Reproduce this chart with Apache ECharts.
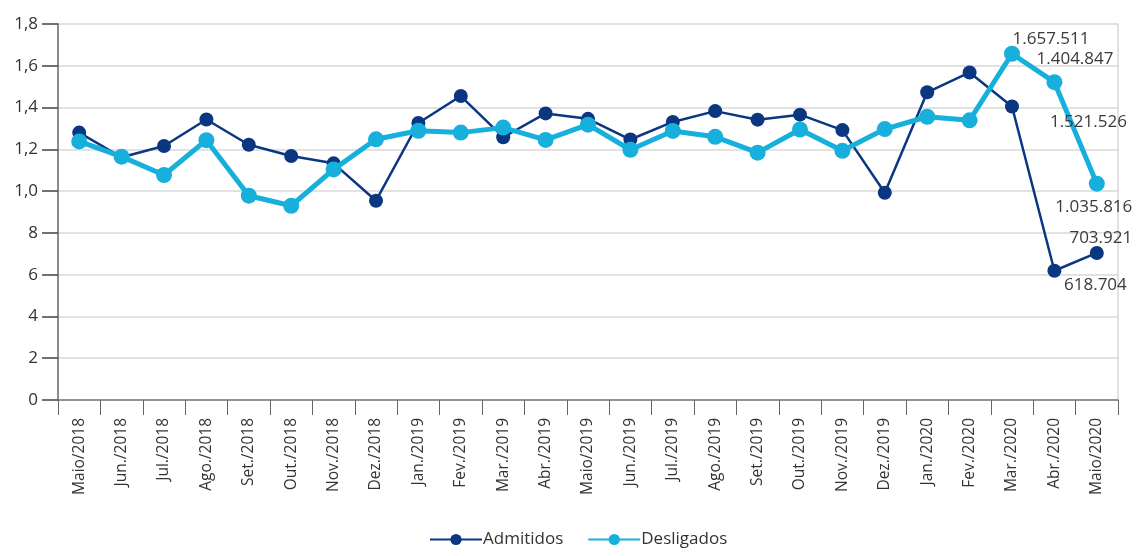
<!DOCTYPE html>
<html>
<head>
<meta charset="utf-8">
<script src="https://cdn.jsdelivr.net/npm/echarts@6/dist/echarts.min.js"></script>
<style>html,body{margin:0;padding:0;background:#fff}#c{width:1136px;height:556px}</style>
</head>
<body>
<div id="c"></div>
<script>
const categories = ['Maio/2018','Jun./2018','Jul./2018','Ago./2018','Set./2018','Out./2018','Nov./2018','Dez./2018','Jan./2019','Fev./2019','Mar./2019','Abr./2019','Maio/2019','Jun./2019','Jul./2019','Ago./2019','Set./2019','Out./2019','Nov./2019','Dez./2019','Jan./2020','Fev./2020','Mar./2020','Abr./2020','Maio/2020'];
const admitidos = [1.280,1.162,1.216,1.343,1.222,1.168,1.133,0.954,1.326,1.455,1.258,1.372,1.346,1.247,1.331,1.383,1.342,1.366,1.292,0.992,1.473,1.568,1.404847,0.618704,0.703921];
const desligados = [1.238,1.165,1.077,1.244,0.978,0.930,1.104,1.248,1.289,1.280,1.304,1.245,1.318,1.198,1.288,1.260,1.184,1.295,1.193,1.297,1.356,1.339,1.657511,1.521526,1.035816];
const yTickLabels = ['0','2','4','6','8','1,0','1,2','1,4','1,6','1,8'];
const admitidosLabels = {22:'1.404.847', 23:'618.704', 24:'703.921'};
const desligadosLabels = {22:'1.657.511', 23:'1.521.526', 24:'1.035.816'};

const labelOffsets = {
  adm: {22:[63,-47], 23:[41,14], 24:[4,-15]},
  des: {22:[39,-15], 23:[34,40], 24:[-3,24]}
};
const FONT = '"Open Sans", "Noto Sans", sans-serif';
const DARK = '#0b3682', LIGHT = '#17b0dc';

function buildData(vals, labels, offs) {
  return vals.map((v, i) => {
    if (labels[i] === undefined) return v;
    return {value: v, label: {show: true, position: 'inside', offset: offs[i], formatter: labels[i],
      color: '#3a3a3a', fontSize: 17, fontFamily: FONT, textBorderWidth: 0}};
  });
}

const chart = echarts.init(document.getElementById('c'), null, {renderer: 'canvas'});
chart.setOption({
  animation: false,
  backgroundColor: '#fff',
  grid: {left: 58, right: 18, top: 24, bottom: 156, containLabel: false},
  legend: {
    bottom: 3, left: 424,
    itemWidth: 52, itemHeight: 14, itemGap: 24,
    textStyle: {fontSize: 17, color: '#333', fontFamily: FONT, padding: [0,0,0,-4]},
    data: ['Admitidos', 'Desligados']
  },
  xAxis: {
    type: 'category', data: categories, boundaryGap: true,
    axisLine: {lineStyle: {color: '#777', width: 1.5}},
    axisTick: {show: true, interval: 0, length: 15, lineStyle: {color: '#666', width: 1}},
    axisLabel: {rotate: 90, interval: 0, fontSize: 15.5, color: '#333', fontFamily: FONT, margin: 18}
  },
  yAxis: [{
    type: 'value', min: 0, max: 1.8, interval: 0.2, position: 'left',
    axisLine: {show: true, lineStyle: {color: '#666', width: 1.5}},
    axisTick: {show: true, length: 16, lineStyle: {color: '#444', width: 1.5}},
    axisLabel: {show: true, fontSize: 17, color: '#333', fontFamily: FONT, margin: 20,
      formatter: v => yTickLabels[Math.round(v / 0.2)]},
    splitLine: {show: true, lineStyle: {color: '#d9d9d9', width: 1.5}}
  }, {
    type: 'value', min: 0, max: 1.8, interval: 0.2, position: 'right',
    axisLine: {show: true, lineStyle: {color: '#d9d9d9', width: 1.5}},
    axisTick: {show: false}, axisLabel: {show: false}, splitLine: {show: false}
  }],
  series: [{
    name: 'Admitidos', type: 'line', yAxisIndex: 0, data: buildData(admitidos, admitidosLabels, labelOffsets.adm),
    symbol: 'circle', symbolSize: 14, z: 2,
    lineStyle: {color: DARK, width: 2.5}, itemStyle: {color: DARK},
    label: {show: false}
  }, {
    name: 'Desligados', type: 'line', yAxisIndex: 0, data: buildData(desligados, desligadosLabels, labelOffsets.des),
    symbol: 'circle', symbolSize: 16, z: 3,
    lineStyle: {color: LIGHT, width: 5}, itemStyle: {color: LIGHT},
    label: {show: false}
  }]
});
</script>
</body>
</html>
